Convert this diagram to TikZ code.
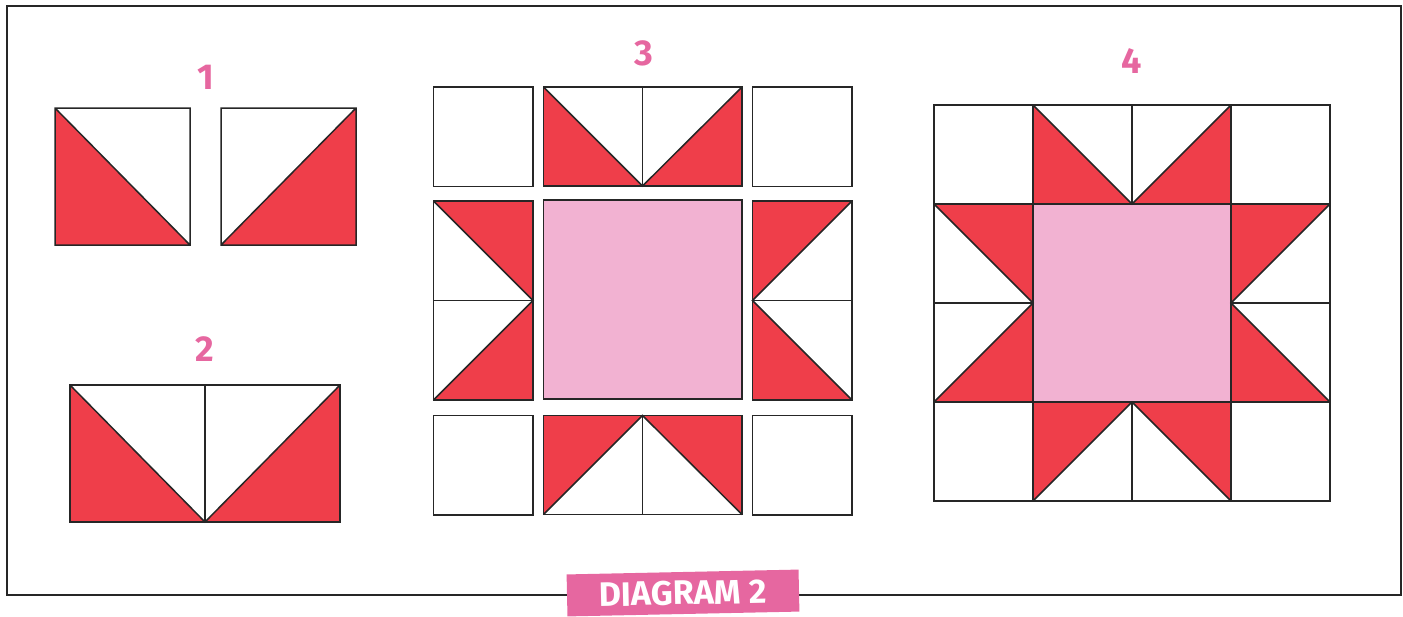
\documentclass[tikz,border=0pt]{standalone}
\usepackage{fontspec}
\setsansfont{Fira Sans}
\usepackage{tikz}
\usepackage{xcolor}
\definecolor{quiltred}{RGB}{239,62,74}
\definecolor{quiltpink}{RGB}{242,178,210}
\definecolor{labelpink}{RGB}{230,103,160}

\begin{document}
\begin{tikzpicture}[x={(0.5pt,0)},y={(0,-0.5pt)},
    seam/.style={line width=0.75pt,draw=black!85},
    numlabel/.style={font=\sffamily\bfseries\fontsize{18}{18}\selectfont,text=labelpink}]
        \useasboundingbox (0,0) rectangle (1403,616);
        \draw[seam] (7,6) rectangle (1401,595);

        % Block 1
        \node[numlabel] (lbl1) at (206,77) {1};
        \fill[quiltred] (55,108) -- (55,245) -- (190,245) -- cycle;
        \fill[quiltred] (356,108) -- (356,245) -- (221,245) -- cycle;
        \draw[seam] (55,108) rectangle (190,245) (55,108) -- (190,245);
        \draw[seam] (221,108) rectangle (356,245) (221,245) -- (356,108);

        % Block 2
        \node[numlabel] (lbl2) at (205,349) {2};
        \fill[quiltred] (70,385) -- (70,522) -- (205,522) -- cycle;
        \fill[quiltred] (340,385) -- (340,522) -- (205,522) -- cycle;
        \draw[seam] (70,385) rectangle (340,522) (205,385) -- (205,522);
        \draw[seam] (70,385) -- (205,522) -- (340,385);

        % Block 3
        \node[numlabel] (lbl3) at (644,53) {3};
        \foreach \x/\y in {433.5/87, 752.5/87, 433.5/415.5, 752.5/415.5}
            \draw[seam] (\x,\y) rectangle ++(99.5,99.5);
        \filldraw[seam,fill=quiltpink] (543.5,200) rectangle (742,399);
        % top
        \fill[quiltred] (543.5,87) -- (543.5,186) -- (642.5,186) -- cycle;
        \fill[quiltred] (742,87) -- (742,186) -- (642.5,186) -- cycle;
        \draw[seam] (543.5,87) rectangle (742,186) (642.5,87) -- (642.5,186);
        \draw[seam] (543.5,87) -- (642.5,186) -- (742,87);
        % bottom
        \fill[quiltred] (543.5,415.5) -- (642.5,415.5) -- (543.5,514.5) -- cycle;
        \fill[quiltred] (742,415.5) -- (642.5,415.5) -- (742,514.5) -- cycle;
        \draw[seam] (543.5,415.5) rectangle (742,514.5) (642.5,415.5) -- (642.5,514.5);
        \draw[seam] (543.5,514.5) -- (642.5,415.5) -- (742,514.5);
        % left
        \fill[quiltred] (433.5,201) -- (533,201) -- (533,300.5) -- cycle;
        \fill[quiltred] (533,300.5) -- (533,400) -- (433.5,400) -- cycle;
        \draw[seam] (433.5,201) rectangle (533,400) (433.5,300.5) -- (533,300.5);
        \draw[seam] (433.5,201) -- (533,300.5) -- (433.5,400);
        % right
        \fill[quiltred] (752.5,201) -- (852,201) -- (752.5,300.5) -- cycle;
        \fill[quiltred] (752.5,300.5) -- (752.5,400) -- (852,400) -- cycle;
        \draw[seam] (752.5,201) rectangle (852,400) (752.5,300.5) -- (852,300.5);
        \draw[seam] (852,201) -- (752.5,300.5) -- (852,400);

        % Block 4
        \node[numlabel] (lbl4) at (1132,61) {4};
        \fill[quiltpink] (1033,204) rectangle (1231,402);
        \fill[quiltred] (1033,105) -- (1033,204) -- (1132,204) -- cycle;
        \fill[quiltred] (1231,105) -- (1231,204) -- (1132,204) -- cycle;
        \fill[quiltred] (934,204) -- (1033,204) -- (1033,303) -- cycle;
        \fill[quiltred] (1033,303) -- (1033,402) -- (934,402) -- cycle;
        \fill[quiltred] (1330,204) -- (1231,204) -- (1231,303) -- cycle;
        \fill[quiltred] (1231,303) -- (1231,402) -- (1330,402) -- cycle;
        \fill[quiltred] (1033,402) -- (1132,402) -- (1033,501) -- cycle;
        \fill[quiltred] (1231,402) -- (1132,402) -- (1231,501) -- cycle;
        \draw[seam] (934,105) rectangle (1330,501);
        \draw[seam] (1033,105) -- (1033,501) (1231,105) -- (1231,501);
        \draw[seam] (934,204) -- (1330,204) (934,402) -- (1330,402);
        \draw[seam] (1132,105) -- (1132,204) (1132,402) -- (1132,501);
        \draw[seam] (934,303) -- (1033,303) (1231,303) -- (1330,303);
        \draw[seam] (1033,105) -- (1132,204) -- (1231,105);
        \draw[seam] (934,204) -- (1033,303) -- (934,402);
        \draw[seam] (1330,204) -- (1231,303) -- (1330,402);
        \draw[seam] (1033,501) -- (1132,402) -- (1231,501);

        % Caption
        \node[fill=labelpink, rotate=1.2, minimum width=116pt, minimum height=21pt, inner sep=0pt,
            text=white, font=\sffamily\bfseries\fontsize{17}{17}\selectfont] (caption) at (683,593) {DIAGRAM 2};
    \end{tikzpicture}
\end{document}
